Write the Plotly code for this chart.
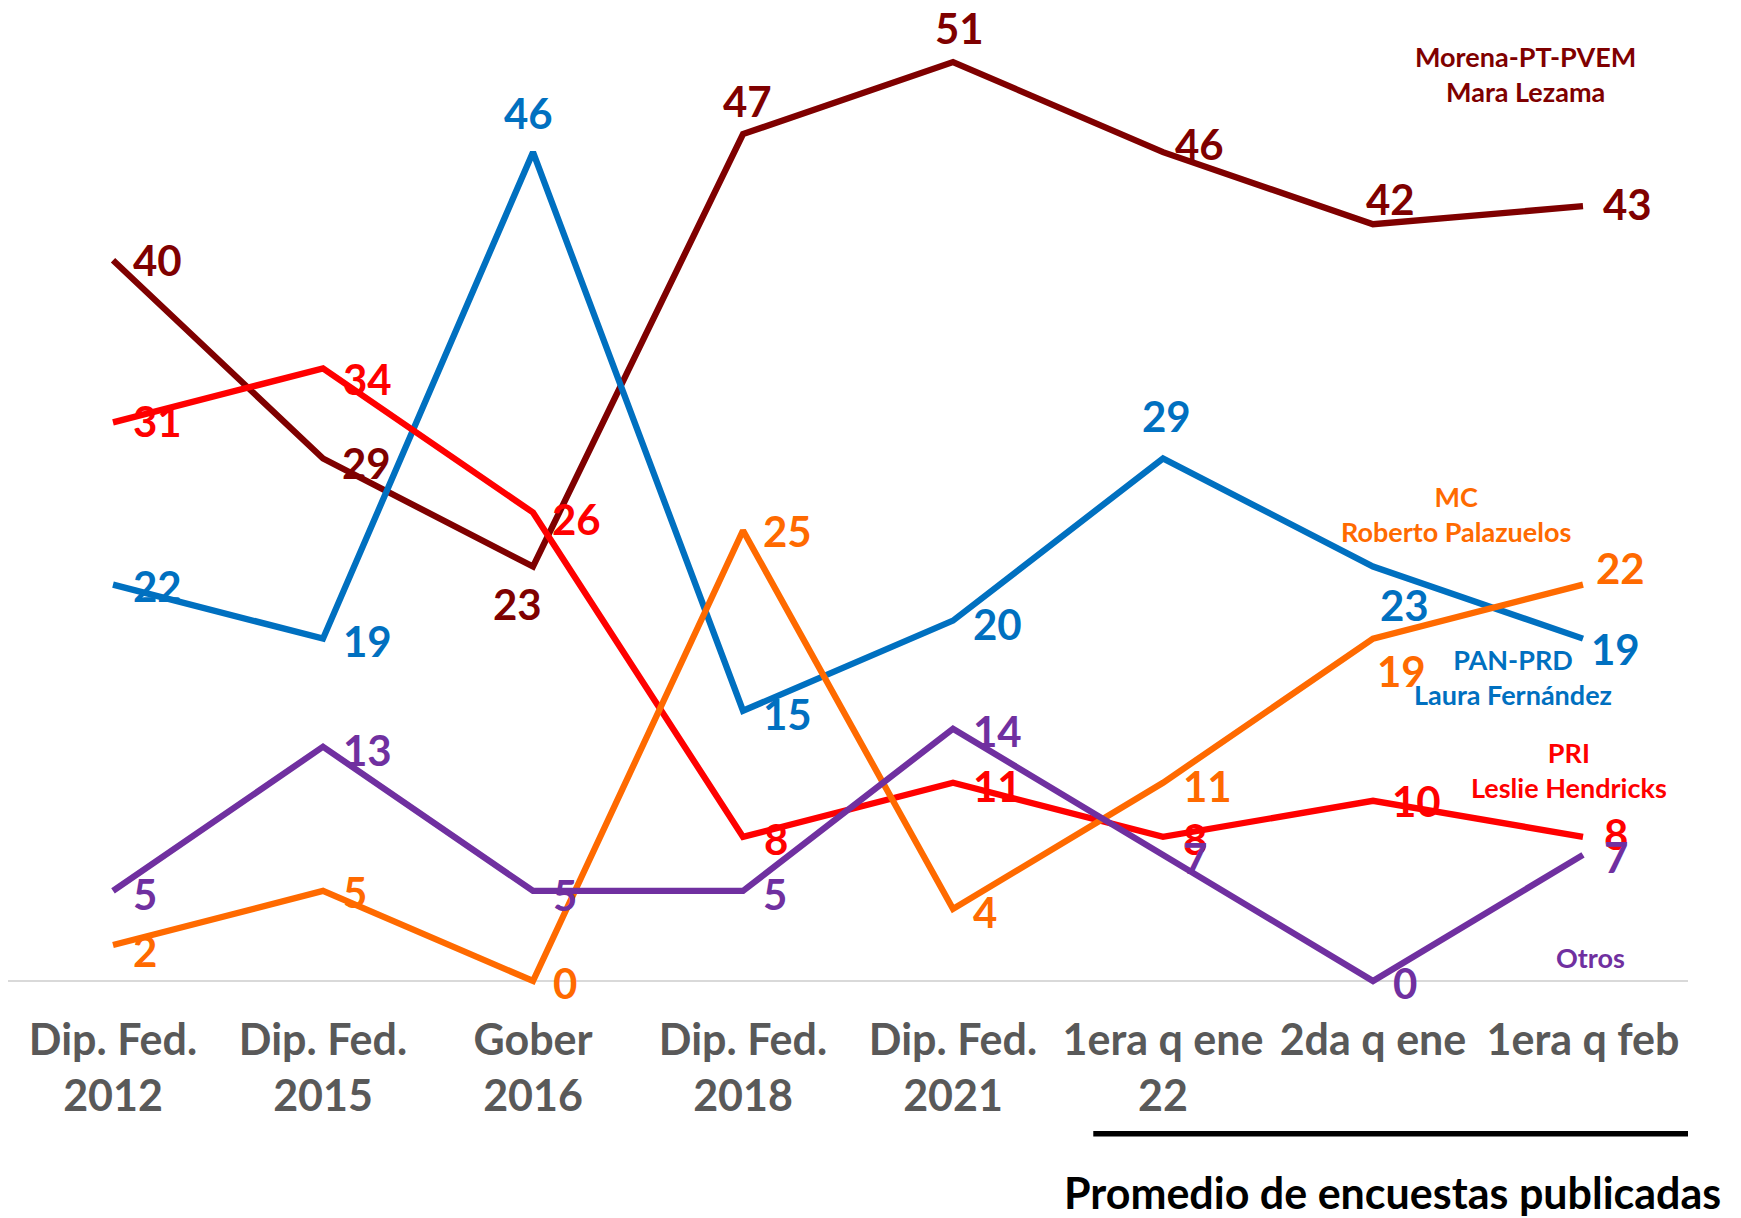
import plotly.graph_objects as go

categories = ["Dip. Fed.<br>2012", "Dip. Fed.<br>2015", "Gober<br>2016", "Dip. Fed.<br>2018",
              "Dip. Fed.<br>2021", "1era q ene<br>22", "2da q ene", "1era q feb"]
morena = [40, 29, 23, 47, 51, 46, 42, 43]
pri = [31, 34, 26, 8, 11, 8, 10, 8]
pan = [22, 19, 46, 15, 20, 29, 23, 19]
mc = [2, 5, 0, 25, 4, 11, 19, 22]
otros = [5, 13, 5, 5, 14, 7, 0, 7]

FONT = "Lato, 'Open Sans', sans-serif"
S = 1.11  # label offset scale

series = [
    ("Morena-PT-PVEM", morena, "#7F0000",
     [(40, 0), (39, 4), (-14, 34), (4, -30), (6, -31), (33, -7), (16, -23), (40, -2)]),
    ("PAN-PRD", pan, "#0070C0",
     [(40, 1), (40, 2), (-4, -35), (40, 3), (40, 3), (3, -38), (28, 35), (29, 9)]),
    ("PRI", pri, "#FF0000",
     [(40, -1), (40, 10), (39, 6), (30, 2), (40, 3), (29, 2), (39, 0), (30, -3)]),
    ("MC", mc, "#FF6A00",
     [(29, 5), (29, 1), (29, 2), (40, 0), (29, 3), (40, 3), (26, 29), (34, -15)]),
    ("Otros", otros, "#7030A0",
     [(29, 3), (40, 3), (29, 4), (29, 3), (40, 2), (29, 3), (29, 2), (30, 2)]),
]

fig = go.Figure()
annotations = []
for name, vals, color, offs in series:
    fig.add_trace(go.Scatter(x=categories, y=vals, mode="lines", name=name,
                             line=dict(color=color, width=6.3), showlegend=False,
                             hoverinfo="skip"))
    for c, v, (dx, dy) in zip(categories, vals, offs):
        annotations.append(dict(x=c, y=v, xref="x", yref="y", text=str(v), showarrow=False,
                                xshift=dx * S, yshift=-dy * S,
                                font=dict(family=FONT, size=42, color=color, weight=700)))

legend_labels = [
    ("Morena-PT-PVEM<br>Mara Lezama", "#7F0000", 0.903, 0.933),
    ("MC<br>Roberto Palazuelos", "#FF6A00", 0.862, 0.489),
    ("PAN-PRD<br>Laura Fernández", "#0070C0", 0.896, 0.325),
    ("PRI<br>Leslie Hendricks", "#FF0000", 0.929, 0.231),
    ("Otros", "#7030A0", 0.942, 0.042),
]
for txt, col, x, y in legend_labels:
    annotations.append(dict(x=x, y=y, xref="paper", yref="paper", text=txt, showarrow=False,
                            xanchor="center", yanchor="middle",
                            font=dict(family=FONT, size=27, color=col, weight=700)))

annotations.append(dict(x=0.824, y=-0.1948, xref="paper", yref="paper",
                        text="Promedio de encuestas publicadas", showarrow=False,
                        xanchor="center", yanchor="middle",
                        font=dict(family=FONT, size=43, color="#000000", weight=700)))

shapes = [
    dict(type="line", xref="paper", yref="y", x0=0, x1=1, y0=0, y1=0,
         line=dict(color="#D9D9D9", width=2), layer="below"),
    dict(type="line", xref="paper", yref="paper", x0=0.646, x1=1.0, y0=-0.136, y1=-0.136,
         line=dict(color="#000000", width=5.5)),
]

fig.update_layout(
    width=1733, height=1210,
    margin=dict(l=0, r=53, t=0, b=219),
    paper_bgcolor="white", plot_bgcolor="white",
    annotations=annotations, shapes=shapes,
    xaxis=dict(type="category", range=[-0.5, 7.5], showgrid=False, zeroline=False,
               showline=False, ticks="", ticklabelstandoff=12,
               tickfont=dict(family=FONT, size=43, color="#595959", weight=700)),
    yaxis=dict(range=[-1, 54], visible=False, showgrid=False, zeroline=False),
)

fig.write_html("out.html")
